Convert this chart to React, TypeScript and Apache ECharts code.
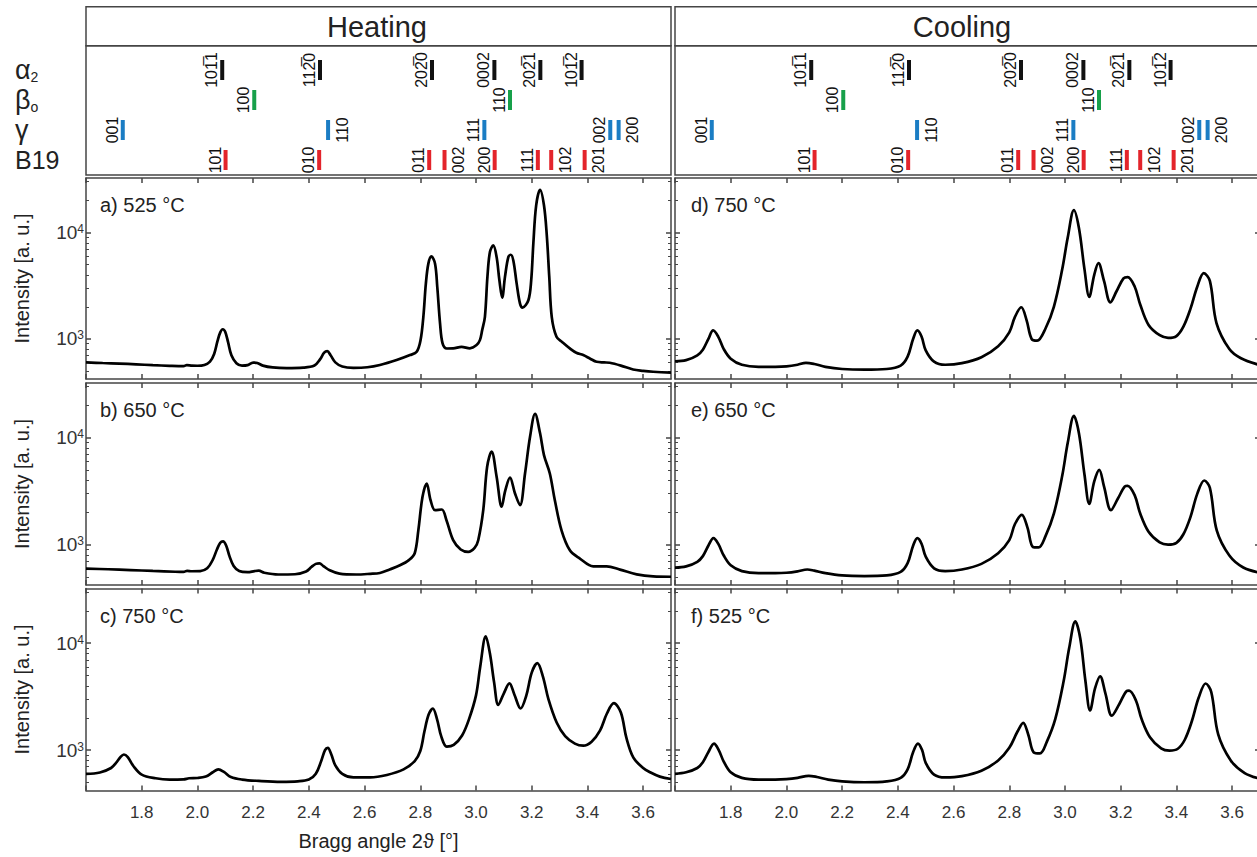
import React, { useEffect, useRef } from "react";
import * as echarts from "echarts";

// ---------- axis ticks ----------
const X_MIN = 1.6;
const X_MAX = 3.7;
const xTickValues = [1.6, 1.8, 2.0, 2.2, 2.4, 2.6, 2.8, 3.0, 3.2, 3.4, 3.6];
const xLabelValues = [1.8, 2.0, 2.2, 2.4, 2.6, 2.8, 3.0, 3.2, 3.4, 3.6];
const yDecadeExps = [3, 4];
const yMinorDecades = [2, 3, 4];
const yMinorMultipliers = [2, 3, 4, 5, 6, 7, 8, 9];
const Y_MIN_LOG = 2.622;
const Y_MAX_LOG = 4.512;

// ---------- reflection markers ----------
const alpha2Pos = [2.089, 2.44, 2.842, 3.066, 3.231, 3.379];
const alpha2Hkl = ["101\u03051", "112\u03050", "202\u03050", "0002", "202\u03051", "101\u03052"];
const alpha2Side = ["L", "L", "L", "L", "L", "L"];
const betaPos = [2.204, 3.122];
const betaHkl = ["100", "110"];
const betaSide = ["L", "L"];
const gammaPos = [1.732, 2.469, 3.03, 3.482, 3.512];
const gammaHkl = ["001", "110", "111", "002", "200"];
const gammaSide = ["L", "R", "L", "L", "R"];
const b19Pos = [2.101, 2.437, 2.832, 2.887, 3.067, 3.222, 3.27, 3.39];
const b19Hkl = ["101", "010", "011", "002", "200", "111", "102", "201"];
const b19Side = ["L", "L", "L", "R", "L", "L", "R", "R"];

// ---------- diffraction patterns [2theta, intensity] ----------
const heating525: [number, number][] = [
  [1.6, 600], [1.66, 592], [1.72, 585], [1.78, 575], [1.84, 565], [1.9, 557], [1.95, 553], [1.962, 566], [1.98, 560],
  [2.0, 558], [2.025, 568], [2.045, 610], [2.06, 720], [2.072, 950], [2.082, 1150], [2.091, 1230], [2.1, 1160],
  [2.11, 930], [2.122, 700], [2.14, 590], [2.16, 560], [2.18, 566], [2.2, 598], [2.215, 592], [2.235, 560],
  [2.27, 538], [2.32, 530], [2.38, 535], [2.42, 560], [2.44, 640], [2.455, 740], [2.466, 765], [2.478, 700],
  [2.495, 600], [2.52, 548], [2.56, 533], [2.61, 540], [2.655, 567], [2.715, 631], [2.763, 703], [2.787, 755],
  [2.801, 972], [2.811, 1610], [2.82, 3300], [2.829, 5090], [2.84, 5950], [2.853, 5090], [2.861, 3070],
  [2.871, 1390], [2.88, 904], [2.895, 811], [2.918, 813], [2.948, 841], [2.978, 813], [3.002, 873], [3.014, 972],
  [3.022, 1200], [3.032, 1610], [3.041, 3820], [3.05, 6550], [3.062, 7560], [3.074, 5870], [3.084, 3550],
  [3.094, 2440], [3.104, 3820], [3.116, 5870], [3.125, 6170], [3.134, 5460], [3.146, 3300], [3.158, 2140],
  [3.167, 1966], [3.188, 2306], [3.198, 3500], [3.206, 8000], [3.216, 18000], [3.23, 25200], [3.244, 18000],
  [3.254, 9500], [3.263, 3820], [3.272, 1600], [3.289, 1045], [3.31, 930], [3.34, 800], [3.36, 740], [3.385, 703],
  [3.41, 650], [3.433, 608], [3.46, 600], [3.48, 595], [3.52, 560], [3.564, 515], [3.6, 500], [3.636, 490], [3.7, 480],
];
const heating650: [number, number][] = [
  [1.6, 595], [1.68, 588], [1.76, 578], [1.84, 567], [1.92, 557], [1.95, 555], [1.963, 568], [1.98, 563], [2.01, 565],
  [2.035, 600], [2.055, 720], [2.07, 900], [2.082, 1040], [2.092, 1070], [2.103, 980], [2.115, 780], [2.13, 630],
  [2.15, 565], [2.18, 552], [2.205, 565], [2.22, 570], [2.24, 545], [2.29, 525], [2.35, 528], [2.39, 560],
  [2.41, 620], [2.425, 660], [2.438, 668], [2.452, 630], [2.475, 575], [2.51, 535], [2.57, 525], [2.62, 533],
  [2.655, 543], [2.69, 585], [2.727, 640], [2.76, 720], [2.78, 830], [2.793, 1360], [2.808, 2800], [2.823, 3730],
  [2.837, 2600], [2.853, 2100], [2.877, 2130], [2.894, 1690], [2.918, 1100], [2.945, 900], [2.972, 854],
  [2.995, 930], [3.008, 1100], [3.026, 2100], [3.04, 5350], [3.056, 7400], [3.074, 4320], [3.092, 2260],
  [3.105, 3200], [3.122, 4230], [3.14, 3010], [3.158, 2340], [3.176, 4630], [3.194, 10200], [3.212, 16700],
  [3.23, 11000], [3.244, 6880], [3.265, 4630], [3.283, 2600], [3.307, 1360], [3.337, 884], [3.373, 740],
  [3.421, 626], [3.469, 626], [3.517, 583], [3.577, 527], [3.636, 504], [3.7, 500],
];
const heating750: [number, number][] = [
  [1.6, 598], [1.65, 618], [1.69, 680], [1.71, 770], [1.725, 870], [1.736, 910], [1.75, 860], [1.77, 710],
  [1.8, 590], [1.85, 545], [1.9, 530], [1.95, 532], [1.97, 545], [2.0, 548], [2.03, 565], [2.055, 620], [2.075, 660],
  [2.095, 625], [2.12, 560], [2.16, 530], [2.22, 515], [2.3, 505], [2.36, 510], [2.4, 530], [2.425, 600],
  [2.445, 800], [2.458, 1000], [2.468, 1050], [2.48, 920], [2.495, 720], [2.52, 600], [2.56, 555], [2.62, 555],
  [2.68, 585], [2.74, 660], [2.78, 790], [2.8, 980], [2.815, 1500], [2.83, 2150], [2.845, 2450], [2.86, 1950],
  [2.875, 1350], [2.895, 1080], [2.92, 1120], [2.95, 1370], [2.975, 1950], [3.0, 3250], [3.015, 6000],
  [3.035, 11600], [3.05, 8000], [3.065, 4300], [3.08, 2650], [3.1, 3400], [3.12, 4210], [3.138, 3300],
  [3.16, 2450], [3.18, 3200], [3.2, 5300], [3.22, 6500], [3.24, 4900], [3.26, 3000], [3.29, 1800], [3.32, 1350],
  [3.355, 1150], [3.385, 1100], [3.415, 1200], [3.445, 1520], [3.47, 2200], [3.495, 2750], [3.52, 2250],
  [3.54, 1300], [3.565, 850], [3.6, 680], [3.625, 620], [3.66, 565], [3.7, 537],
];
const cooling750: [number, number][] = [
  [1.6, 615], [1.64, 630], [1.68, 700], [1.7, 790], [1.72, 1000], [1.737, 1200], [1.755, 1050], [1.775, 800],
  [1.8, 650], [1.84, 570], [1.9, 545], [1.96, 545], [2.0, 550], [2.04, 570], [2.07, 595], [2.1, 580], [2.14, 545],
  [2.2, 520], [2.28, 512], [2.36, 520], [2.41, 560], [2.435, 680], [2.455, 1000], [2.47, 1200], [2.485, 1050],
  [2.5, 780], [2.53, 610], [2.57, 570], [2.63, 590], [2.7, 670], [2.76, 850], [2.8, 1150], [2.82, 1600],
  [2.843, 1980], [2.862, 1500], [2.88, 1000], [2.9, 960], [2.93, 1250], [2.96, 2000], [2.99, 4500], [3.01, 9000],
  [3.032, 16200], [3.05, 11000], [3.07, 4500], [3.087, 2480], [3.105, 4000], [3.12, 5150], [3.14, 3500],
  [3.163, 2200], [3.185, 2800], [3.21, 3700], [3.225, 3800], [3.25, 3100], [3.27, 2100], [3.3, 1350],
  [3.34, 1080], [3.37, 1020], [3.4, 1060], [3.425, 1300], [3.45, 1900], [3.475, 3100], [3.498, 4150],
  [3.52, 3500], [3.544, 1400], [3.59, 800], [3.63, 660], [3.7, 565],
];
const cooling650: [number, number][] = [
  [1.6, 608], [1.64, 625], [1.68, 690], [1.7, 780], [1.72, 980], [1.738, 1150], [1.755, 1020], [1.775, 790],
  [1.8, 640], [1.84, 565], [1.9, 540], [1.96, 540], [2.0, 545], [2.04, 562], [2.075, 585], [2.1, 570], [2.14, 540],
  [2.2, 515], [2.28, 508], [2.36, 515], [2.41, 555], [2.435, 670], [2.455, 980], [2.47, 1150], [2.485, 1020],
  [2.5, 770], [2.53, 600], [2.57, 565], [2.63, 585], [2.7, 660], [2.76, 830], [2.8, 1100], [2.82, 1550],
  [2.845, 1900], [2.865, 1450], [2.885, 950], [2.905, 940], [2.93, 1200], [2.96, 1950], [2.99, 4400], [3.01, 9000],
  [3.032, 16000], [3.05, 11000], [3.07, 4500], [3.087, 2400], [3.105, 3900], [3.123, 5000], [3.14, 3500],
  [3.165, 2100], [3.19, 2700], [3.215, 3500], [3.225, 3550], [3.25, 2900], [3.27, 1950], [3.3, 1320],
  [3.34, 1050], [3.37, 1000], [3.4, 1040], [3.425, 1250], [3.45, 1800], [3.475, 3000], [3.5, 3980], [3.52, 3400],
  [3.545, 1350], [3.59, 790], [3.64, 610], [3.7, 545],
];
const cooling525: [number, number][] = [
  [1.6, 600], [1.64, 620], [1.68, 680], [1.7, 770], [1.72, 960], [1.74, 1150], [1.757, 1000], [1.775, 780],
  [1.8, 620], [1.84, 550], [1.9, 530], [1.96, 530], [2.0, 535], [2.04, 550], [2.08, 575], [2.11, 560], [2.15, 530],
  [2.2, 510], [2.28, 500], [2.36, 510], [2.41, 550], [2.435, 660], [2.455, 960], [2.472, 1150], [2.487, 1000],
  [2.5, 760], [2.53, 590], [2.57, 555], [2.63, 570], [2.7, 640], [2.76, 800], [2.8, 1050], [2.83, 1500],
  [2.85, 1800], [2.868, 1400], [2.888, 950], [2.91, 930], [2.935, 1200], [2.965, 1950], [2.995, 4400],
  [3.015, 9000], [3.037, 16000], [3.055, 11000], [3.073, 4500], [3.09, 2350], [3.108, 3800], [3.126, 4900],
  [3.145, 3400], [3.168, 2100], [3.195, 2700], [3.22, 3550], [3.23, 3600], [3.255, 2900], [3.275, 1950],
  [3.305, 1320], [3.345, 1040], [3.375, 990], [3.405, 1030], [3.43, 1250], [3.455, 1850], [3.48, 3100],
  [3.505, 4200], [3.525, 3500], [3.55, 1400], [3.595, 800], [3.645, 610], [3.7, 540],
];

const panelTags = ["a) 525 °C", "b) 650 °C", "c) 750 °C", "d) 750 °C", "e) 650 °C", "f) 525 °C"];
const columnTitles = ["Heating", "Cooling"];
const rowNames = ["B19", "γ", "β", "α"];

// ---------- layout / style ----------
const FONT = '"Liberation Sans", Arial, Helvetica, sans-serif';
const FRAME = "#454545";
const colLeft = [86, 675];
const colWidth = 585;
const rowTop = [178, 383, 588.5];
const rowHeight = [201, 202, 202];

function buildOption() {
  const grid: any[] = [];
  const xAxis: any[] = [];
  const yAxis: any[] = [];
  const series: any[] = [];
  const graphic: any[] = [];
  const frameLine = { color: FRAME, width: 1.5 };

  const phases = [
    { pos: b19Pos, hkl: b19Hkl, side: b19Side, row: 0, color: "#e3242b" },
    { pos: gammaPos, hkl: gammaHkl, side: gammaSide, row: 1, color: "#1b7dc4" },
    { pos: betaPos, hkl: betaHkl, side: betaSide, row: 2, color: "#17a04a" },
    { pos: alpha2Pos, hkl: alpha2Hkl, side: alpha2Side, row: 3, color: "#111111" },
  ];
  const rowRich = ["{n|" + rowNames[0] + "}", "{g|" + rowNames[1] + "}", "{g|" + rowNames[2] + "}{sub|o}", "{g|" + rowNames[3] + "}{sub|2}"];

  [0, 1].forEach((col) => {
    graphic.push({
      type: "rect",
      shape: { x: colLeft[col], y: 6.7, width: colWidth, height: 39 },
      style: { fill: "none", stroke: FRAME, lineWidth: 1.5 },
      silent: true,
    });
    graphic.push({
      type: "text",
      x: col === 0 ? 377 : 962,
      y: 26.5,
      style: {
        text: columnTitles[col], fill: "#222", fontSize: 29, fontFamily: FONT,
        align: "center", verticalAlign: "middle", textAlign: "center", textVerticalAlign: "middle",
      },
      silent: true,
    });

    const gi = grid.length;
    grid.push({
      left: colLeft[col], top: 45.7, width: colWidth, height: 129.3,
      show: true, borderColor: FRAME, borderWidth: 1.5, backgroundColor: "transparent",
      outerBoundsMode: "none", containLabel: false,
    });
    const xi = xAxis.length;
    xAxis.push({ type: "value", gridIndex: gi, min: X_MIN, max: X_MAX, show: false });
    const yi = yAxis.length;
    yAxis.push({
      type: "value", gridIndex: gi, min: -0.5, max: 3.81, show: col === 0,
      axisLine: { show: false }, axisTick: { show: false }, splitLine: { show: false },
      axisLabel: {
        show: col === 0, customValues: [0, 1, 2, 3], margin: 71, align: "left",
        formatter: (v: number) => rowRich[Math.round(v)],
        rich: {
          g: { fontSize: 27, fontFamily: FONT, color: "#222" },
          sub: { fontSize: 14, fontFamily: FONT, color: "#222", verticalAlign: "bottom" },
          n: { fontSize: 25, fontFamily: FONT, color: "#222" },
        },
      },
    });
    phases.forEach((ph) => {
      series.push({
        type: "custom",
        xAxisIndex: xi,
        yAxisIndex: yi,
        silent: true,
        data: ph.pos.map((x, i) => [x, ph.row, i]),
        renderItem: (params: any, api: any) => {
          const i = api.value(2);
          const p = api.coord([api.value(0), api.value(1)]);
          const right = ph.side[i] === "R";
          return {
            type: "group",
            children: [
              { type: "rect", shape: { x: p[0] - 2, y: p[1] - 10, width: 4, height: 20 }, style: { fill: ph.color } },
              {
                type: "text",
                x: p[0] + (right ? 14 : -10.5),
                y: p[1],
                rotation: Math.PI / 2,
                style: {
                  text: ph.hkl[i], fill: "#111", fontSize: 16, fontFamily: FONT,
                  align: "center", verticalAlign: "middle", textAlign: "center", textVerticalAlign: "middle",
                },
              },
            ],
          };
        },
      });
    });
  });

  const minorVals: number[] = [];
  yMinorDecades.forEach((d) =>
    yMinorMultipliers.forEach((m) => {
      const v = d + Math.log10(m);
      if (v > Y_MIN_LOG && v < Y_MAX_LOG) minorVals.push(v);
    })
  );

  const panelData = [heating525, heating650, heating750, cooling750, cooling650, cooling525];
  panelData.forEach((data, k) => {
    const col = k < 3 ? 0 : 1;
    const row = k % 3;
    const gi = grid.length;
    grid.push({
      left: colLeft[col], top: rowTop[row], width: colWidth, height: rowHeight[row],
      outerBoundsMode: "none", containLabel: false,
    });
    const isBottom = row === 2;
    const xb = xAxis.length;
    const tickBase = { show: true, inside: true, length: 5, lineStyle: frameLine };
    xAxis.push({
      type: "value", gridIndex: gi, min: X_MIN, max: X_MAX, position: "bottom",
      axisLine: { show: true, onZero: false, lineStyle: frameLine },
      axisTick: { ...tickBase, customValues: xTickValues },
      axisLabel: {
        show: isBottom, customValues: xLabelValues, formatter: (v: number) => v.toFixed(1),
        margin: 13, fontSize: 17, color: "#333", fontFamily: FONT,
      },
      splitLine: { show: false },
      name: isBottom && col === 0 ? "Bragg angle 2ϑ [°]" : "",
      nameLocation: "middle", nameGap: 40,
      nameTextStyle: { fontSize: 20, color: "#222", fontFamily: FONT },
    });
    xAxis.push({
      type: "value", gridIndex: gi, min: X_MIN, max: X_MAX, position: "top",
      axisLine: { show: true, onZero: false, lineStyle: frameLine },
      axisTick: { ...tickBase, customValues: xTickValues },
      axisLabel: { show: false }, splitLine: { show: false },
    });
    const yl = yAxis.length;
    yAxis.push({
      type: "value", gridIndex: gi, min: Y_MIN_LOG, max: Y_MAX_LOG, position: "left",
      axisLine: { show: true, onZero: false, lineStyle: frameLine },
      axisTick: { ...tickBase, customValues: yDecadeExps },
      axisLabel: {
        show: col === 0, customValues: yDecadeExps, margin: 2,
        formatter: (v: number) => "{b|10}{s|" + Math.round(v) + "}",
        rich: {
          b: { fontSize: 19, color: "#333", fontFamily: FONT },
          s: { fontSize: 12, color: "#333", fontFamily: FONT, verticalAlign: "top" },
        },
      },
      splitLine: { show: false },
      name: col === 0 ? "Intensity [a. u.]" : "",
      nameLocation: "middle", nameGap: 54, nameRotate: 90,
      nameTextStyle: { fontSize: 20, color: "#222", fontFamily: FONT },
    });
    yAxis.push({
      type: "value", gridIndex: gi, min: Y_MIN_LOG, max: Y_MAX_LOG, position: "right",
      axisLine: { show: true, onZero: false, lineStyle: frameLine },
      axisTick: { ...tickBase, customValues: yDecadeExps },
      axisLabel: { show: false }, splitLine: { show: false },
    });
    ["left", "right"].forEach((pos) => {
      yAxis.push({
        type: "value", gridIndex: gi, min: Y_MIN_LOG, max: Y_MAX_LOG, position: pos,
        axisLine: { show: false, onZero: false },
        axisTick: { show: true, inside: true, length: 3, customValues: minorVals, lineStyle: { color: FRAME, width: 1 } },
        axisLabel: { show: false }, splitLine: { show: false },
      });
    });
    series.push({
      type: "line",
      xAxisIndex: xb,
      yAxisIndex: yl,
      data: data.map(([x, v]) => [x, Math.log10(v)]),
      showSymbol: false,
      symbol: "none",
      smooth: 0.35,
      lineStyle: { color: "#000", width: 2.7 },
      silent: true,
    });
    graphic.push({
      type: "text",
      x: colLeft[col] + (col === 0 ? 14 : 16),
      y: rowTop[row] + 27,
      style: {
        text: panelTags[k], fill: "#222", fontSize: 20, fontFamily: FONT,
        align: "left", verticalAlign: "middle", textAlign: "left", textVerticalAlign: "middle",
      },
      silent: true,
    });
  });

  return {
    animation: false,
    backgroundColor: "#ffffff",
    grid,
    xAxis,
    yAxis,
    series,
    graphic,
  };
}

export default function App() {
  const ref = useRef<HTMLDivElement>(null);
  useEffect(() => {
    if (!ref.current) return;
    const chart = echarts.init(ref.current, null, { renderer: "svg" });
    chart.setOption(buildOption() as any);
    return () => chart.dispose();
  }, []);
  return (
    <div
      ref={ref}
      style={{ position: "absolute", left: 0, top: 0, width: 1257, height: 857, background: "#fff" }}
    />
  );
}
